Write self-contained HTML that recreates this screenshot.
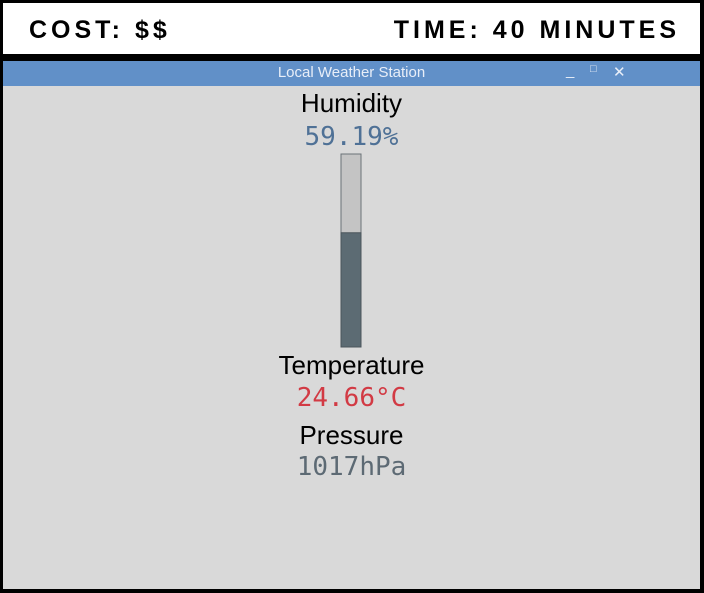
<!DOCTYPE html>
<html><head><meta charset="utf-8"><style>
body{margin:0;width:704px;height:593px;background:#000;position:relative;overflow:hidden;font-family:"Liberation Sans",sans-serif}
.hdr{position:absolute;left:3px;top:3px;width:697px;height:51px;background:#fff}
.hdr span{position:absolute;top:13px;font-size:25px;font-weight:bold;letter-spacing:4px;color:#000}
.tb{position:absolute;left:3px;top:61px;width:697px;height:25px;background:#6190c8;color:#e8eef8;font-size:15px}
.body{position:absolute;left:3px;top:86px;width:697px;height:503px;background:#d9d9d9}
.t{position:absolute;width:100%;text-align:center;left:0}
</style></head><body>
<div class="hdr">
<span style="left:26px">COST: $$</span>
<span style="right:20px">TIME: 40 MINUTES</span>
</div>
<div class="tb">
<div style="position:absolute;left:0;width:697px;text-align:center;top:3px">Local Weather Station</div>
<span style="position:absolute;left:563px;top:1px">_</span>
<span style="position:absolute;left:587px;top:2px;font-size:11px">□</span>
<span style="position:absolute;left:610px;top:2px">✕</span>
</div>
<div class="body">
<div class="t" style="top:2px;font-size:26px;color:#000">Humidity</div>
<div class="t" style="top:36px;font-size:26px;color:#4f7196;font-family:'DejaVu Sans Mono',monospace">59.19%</div>
<svg id="bar" style="position:absolute;left:0;top:0" width="697" height="503"></svg>
<div class="t" style="top:264px;font-size:26px;color:#000">Temperature</div>
<div class="t" style="top:297px;font-size:26px;color:#d23a44;font-family:'DejaVu Sans Mono',monospace">24.66°C</div>
<div class="t" style="top:334px;font-size:26px;color:#000">Pressure</div>
<div class="t" style="top:366px;font-size:26px;color:#5d6a74;font-family:'DejaVu Sans Mono',monospace">1017hPa</div>
</div>
<script>
const humidity=[59.19];
const range=[0,100];
const svg=document.getElementById('bar');
const NS='http://www.w3.org/2000/svg';
const gx=338,gw=20,gTop=68,gBot=261;
function yScale(v){return gBot-(v-range[0])/(range[1]-range[0])*(gBot-gTop);}
const bg=document.createElementNS(NS,'rect');


bg.setAttribute('x',gx);bg.setAttribute('y',gTop);bg.setAttribute('width',gw);bg.setAttribute('height',gBot-gTop);
bg.setAttribute('fill','#c4c4c4');bg.setAttribute('stroke','#6a7278');
svg.appendChild(bg);
const f=document.createElementNS(NS,'rect');


f.setAttribute('x',gx);f.setAttribute('y',yScale(humidity[0]));f.setAttribute('width',gw);f.setAttribute('height',gBot-yScale(humidity[0]));
f.setAttribute('fill','#5c6b73');f.setAttribute('stroke','#4a555b');
svg.appendChild(f);
</script>
</body></html>
